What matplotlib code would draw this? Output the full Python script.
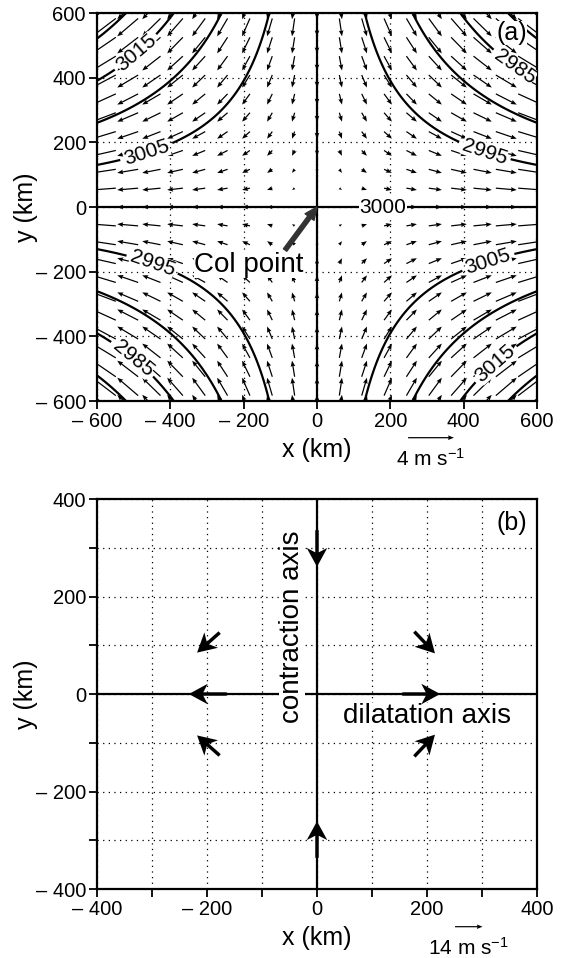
import numpy as np
import matplotlib
matplotlib.use('Agg')
import matplotlib.pyplot as plt
from matplotlib.ticker import FuncFormatter, MultipleLocator

plt.rcParams['font.family'] = ['Liberation Sans', 'DejaVu Sans']
plt.rcParams['mathtext.fontset'] = 'custom'
plt.rcParams['mathtext.rm'] = 'Liberation Sans'
plt.rcParams['mathtext.it'] = 'Liberation Sans:italic'

# ---- panel (a): deformation field ----
deform_rate = 0.00335      # m/s per km (u = a*x, v = -a*y)
height_coef = 6.4e-5       # m per km^2 (Z = 3000 - c*x*y)
z_center = 3000
arrow_dx = 68.1            # km between arrow columns
arrow_dy = 52.8            # km between arrow rows
z_levels = [2980, 2985, 2990, 2995, 3005, 3010, 3015, 3020]
label_pos = [(-490, 473), (-462, 159), (540, 435), (456, 168),
             (-448, -173), (-500, -465), (467, -170), (484, -481)]
key_a = 4                  # m/s

# ---- panel (b): the eight big arrows (tail x, tail y in km, u, v in m/s) ----
xb = [-177, -164, -177, 177, 155, 177, 0, 0]
yb = [126, 0, -126, 128, 0, -128, 336, -336]
ub = [-11.5, -19.3, -11.5, 10.5, 19.3, 10.5, 0, 0]
vb = [-11.5, 0, 11.5, -12.5, 0, 12.5, -21.0, 21.0]
key_b = 14                 # m/s


def dash_fmt(v, pos):
    if v < 0:
        return '\u2013 %d' % abs(v)
    return '%d' % v


def style_axes(ax, lim, major, minor=None):
    ax.set_xlim(-lim, lim)
    ax.set_ylim(-lim, lim)
    ax.xaxis.set_major_locator(MultipleLocator(major))
    ax.yaxis.set_major_locator(MultipleLocator(major))
    if minor:
        ax.xaxis.set_minor_locator(MultipleLocator(minor))
        ax.yaxis.set_minor_locator(MultipleLocator(minor))
        ax.grid(True, which='minor', linestyle=(0, (1, 3.5)), color='black', linewidth=0.9)
    ax.grid(True, which='major', linestyle=(0, (1, 3.5)), color='black', linewidth=0.9)
    ax.xaxis.set_major_formatter(FuncFormatter(dash_fmt))
    ax.yaxis.set_major_formatter(FuncFormatter(dash_fmt))
    ax.tick_params(which='both', direction='out', length=6, width=1.3, labelsize=14.5, pad=2)
    for s in ax.spines.values():
        s.set_linewidth(1.6)
    ax.set_xlabel('x (km)', fontsize=18, labelpad=5)
    ax.set_ylabel('y (km)', fontsize=18, labelpad=-2)
    ax.set_axisbelow(True)


fig = plt.figure(figsize=(5.68, 9.58), dpi=100)
ax1 = fig.add_axes([0.1708, 0.5814, 0.7746, 0.4050])
ax2 = fig.add_axes([0.1708, 0.0720, 0.7746, 0.4071])

# ---------------- panel (a) ----------------
style_axes(ax1, 600, 200)

g = np.linspace(-600, 600, 241)
gx, gy = np.meshgrid(g, g)
z = z_center - height_coef * gx * gy
cs = ax1.contour(gx, gy, z, levels=z_levels, colors='black', linewidths=1.6, zorder=3)
labels = ax1.clabel(cs, fmt='%d', fontsize=15, manual=label_pos, inline=True, inline_spacing=4)
for t in labels:
    t.set_bbox(dict(facecolor='white', edgecolor='none', pad=0))
    t.set_zorder(6)

ax1.axhline(0, color='black', linewidth=1.6, zorder=3)
ax1.axvline(0, color='black', linewidth=1.6, zorder=3)
ax1.text(180, 0, '3000', fontsize=15, ha='center', va='center', zorder=6,
         bbox=dict(facecolor='white', edgecolor='none', pad=0.5))

cols = np.arange(-9, 10) * arrow_dx
rows = np.arange(-12, 13) * arrow_dy
qx, qy = np.meshgrid(cols, rows)
qu = deform_rate * qx
qv = -deform_rate * qy
q1 = ax1.quiver(qx, qy, qu, qv, angles='xy', scale_units='xy', scale=0.032,
                pivot='tip', width=0.0028, headwidth=3.8, headlength=4.8,
                headaxislength=4.3, color='black', zorder=4)
ax1.quiverkey(q1, 431 / 568, 1 - 437.7 / 958, key_a, '%d m s$^{-1}$' % key_a,
              labelpos='S', coordinates='figure', fontproperties={'size': 15})

ax1.annotate('', xy=(0, 0), xytext=(-87, -133), zorder=7,
             arrowprops=dict(arrowstyle='simple,head_length=0.9,head_width=0.8,tail_width=0.3',
                             mutation_scale=10, color='#333333', shrinkA=0, shrinkB=0))
ax1.text(-185, -200, 'Col point', fontsize=20, ha='center', va='baseline', zorder=6,
         bbox=dict(facecolor='white', edgecolor='none', pad=0))
ax1.text(530, 538, '(a)', fontsize=18, ha='center', va='center', zorder=5,
         bbox=dict(facecolor='white', edgecolor='none', pad=0))

# ---------------- panel (b) ----------------
style_axes(ax2, 400, 200, 100)
ax2.axhline(0, color='black', linewidth=1.6, zorder=3)
ax2.axvline(0, color='black', linewidth=1.6, zorder=3)

q2 = ax2.quiver(xb, yb, ub, vb, angles='xy', scale_units='xy', scale=0.28,
                pivot='tail', width=0.0078, headwidth=6, headlength=5.5,
                headaxislength=4.2, color='black', zorder=5)
# thin reference arrow for the key: same scale, drawn outside the view
q2_key = ax2.quiver([2000], [2000], [key_b], [0], angles='xy', scale_units='xy', scale=0.28,
                    width=0.0027, headwidth=3.8, headlength=4.8, headaxislength=4.3,
                    color='black')
ax2.quiverkey(q2_key, 468.8 / 568, 1 - 926.7 / 958, key_b, '%d m s$^{-1}$' % key_b,
              labelpos='S', coordinates='figure', fontproperties={'size': 15})

ax2.text(-45, 139, 'contraction axis', fontsize=20, rotation=90, ha='center', va='center',
         zorder=4, bbox=dict(facecolor='white', edgecolor='none', pad=0))
ax2.text(200, -45, 'dilatation axis', fontsize=20, ha='center', va='center',
         zorder=4, bbox=dict(facecolor='white', edgecolor='none', pad=0))
ax2.text(354, 350, '(b)', fontsize=18, ha='center', va='center', zorder=6)

plt.savefig('out.png', dpi=100)
